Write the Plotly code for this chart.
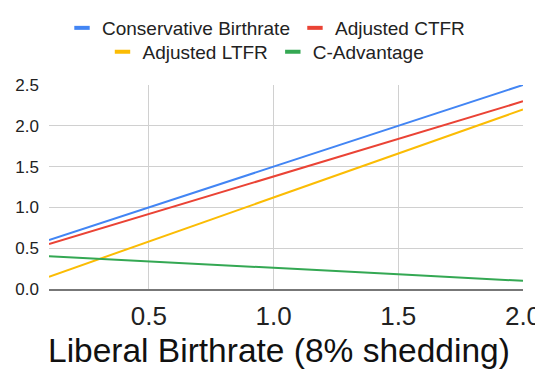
import plotly.graph_objects as go

# Data
liberal_birthrate = [0.1, 0.5, 1.0, 1.5, 2.0]
conservative_birthrate = [0.60, 1.00, 1.50, 2.00, 2.50]
adjusted_ctfr = [0.55, 0.92, 1.38, 1.84, 2.30]
adjusted_ltfr = [0.15, 0.58, 1.12, 1.66, 2.20]
c_advantage = [0.40, 0.34, 0.26, 0.18, 0.10]

series_names = ["Conservative Birthrate", "Adjusted CTFR", "Adjusted LTFR", "C-Advantage"]
series_values = [conservative_birthrate, adjusted_ctfr, adjusted_ltfr, c_advantage]
colors = ["#4285F4", "#EA4335", "#FBBC04", "#34A853"]
legend_ids = ["legend", "legend", "legend2", "legend2"]

x_ticks = [0.5, 1.0, 1.5, 2.0]
x_tick_labels = ["0.5", "1.0", "1.5", "2.0"]
y_ticks = [0.0, 0.5, 1.0, 1.5, 2.0, 2.5]
y_tick_labels = ["0.0", "0.5", "1.0", "1.5", "2.0", "2.5"]
x_title = "Liberal Birthrate (8% shedding)"

# page body has an 8px default margin; figure is sized to fill the rest
W, H = 535, 368
FONT = "Liberation Sans, Arial, sans-serif"

fig = go.Figure()
for name, vals, col in zip(series_names, series_values, colors):
    fig.add_trace(go.Scatter(x=liberal_birthrate, y=vals, mode="lines", name=name,
                             line=dict(color=col, width=2), showlegend=False))
# legend entries with short thick dash symbols
for name, col, lg in zip(series_names, colors, legend_ids):
    fig.add_trace(go.Scatter(x=[None], y=[None], mode="markers", name=name,
                             marker=dict(symbol="line-ew-open", size=11, color=col,
                                         line=dict(color=col, width=4)),
                             legend=lg, showlegend=True))

legend_common = dict(orientation="h", xanchor="center", yanchor="middle",
                     xref="container", yref="container",
                     font=dict(family=FONT, size=19, color="#222222"),
                     itemwidth=30, bgcolor="rgba(0,0,0,0)", tracegroupgap=0)

fig.update_layout(
    width=W, height=H,
    margin=dict(l=41, r=20, t=77, b=87, autoexpand=False),
    paper_bgcolor="white", plot_bgcolor="white",
    font=dict(family=FONT, color="#222222"),
    legend=dict(x=258 / W, y=1 - 20 / H, **legend_common),
    legend2=dict(x=258 / W, y=1 - 44 / H, **legend_common),
    xaxis=dict(range=[0.1, 2.0], tickvals=x_ticks, ticktext=x_tick_labels,
               showgrid=True, gridcolor="#d0d0d0", gridwidth=1, automargin=False,
               zeroline=False, showline=True, linecolor="#777777", linewidth=2,
               tickfont=dict(size=26, color="#222222"), ticks="", ticklabelstandoff=3),
    yaxis=dict(range=[0, 2.5], tickvals=y_ticks, ticktext=y_tick_labels,
               showgrid=True, gridcolor="#d0d0d0", gridwidth=1, zeroline=False, automargin=False,
               tickfont=dict(size=17, color="#222222"), ticks="", ticklabelstandoff=9),
    annotations=[dict(text=x_title, xref="paper", yref="paper",
                      x=(271 - 41) / (W - 41 - 20), y=-(342 - 77 - 204) / 204,
                      xanchor="center", yanchor="middle", showarrow=False,
                      font=dict(family=FONT, size=33.5, color="#111111"))],
)

fig.write_html("out.html")
